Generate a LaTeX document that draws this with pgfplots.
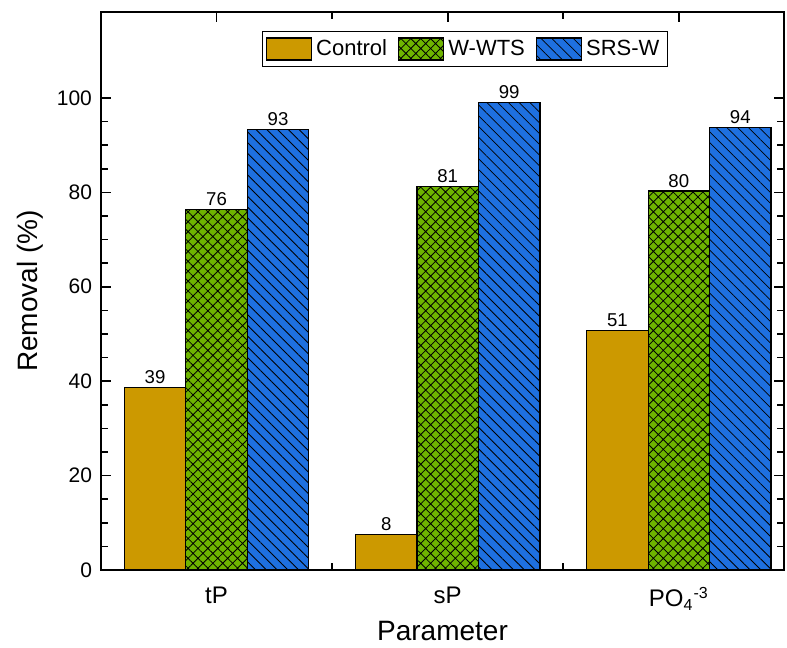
\documentclass[border=0pt]{standalone}
\usepackage{fontspec}
\setmainfont{Liberation Sans}
\usepackage{pgfplots}
\usepackage{pgfplotstable}
\pgfplotsset{compat=1.18}
\usetikzlibrary{patterns.meta}
\definecolor{cgold}{RGB}{204,153,0}
\definecolor{cgreen}{RGB}{110,180,0}
\definecolor{cblue}{RGB}{30,112,224}

\pgfplotstableread{
x control wwts srsw
0 38.6 76.4 93.3
1 7.6 81.2 99.1
2 50.8 80.3 93.8
}\data

\begin{document}
\begin{tikzpicture}
\useasboundingbox (-50.5pt,-38.7pt) rectangle (343pt,285pt);
\begin{axis}[
  at={(0pt,0pt)}, anchor=south west,
  scale only axis, width=341.5pt, height=279pt,
  ybar=0pt, bar width=0.266,
  xmin=-0.5, xmax=2.455, ymin=0, ymax=118.2,
  xtick={0,1,2}, xticklabels={tP, sP, PO\textsubscript{4}\textsuperscript{-3}},
  minor x tick num=1,
  ytick={0,20,40,60,80,100}, minor y tick num=3,
  tick align=inside, tick pos=both,
  major tick length=5pt, minor tick length=3.3pt,
  axis line style={line width=1pt},
  every tick/.style={black, line width=0.8pt},
  /pgf/number format/assume math mode=true,
  yticklabel style={font=\fontsize{10.5}{12}\selectfont, xshift=-1pt},
  xticklabel style={font=\fontsize{12}{14}\selectfont, yshift=-5pt},
  xlabel={Parameter}, ylabel={Removal (\%)},
  label style={font=\fontsize{14}{16}\selectfont},
  xlabel style={at={(axis description cs:0.5,-0.109)}, anchor=center},
  ylabel style={at={(axis description cs:-0.104,0.5)}, anchor=center},
  nodes near coords,
  nodes near coords style={font=\fontsize{9.3}{11}\selectfont, black, inner sep=1.5pt,
     /pgf/number format/.cd, fixed, precision=0, assume math mode=true},
  legend columns=3,
  legend style={at={(rel axis cs:0.235,0.966)}, anchor=north west, draw=black, line width=0.5pt,
     font=\fontsize{11}{13}\selectfont, inner xsep=2pt, inner ysep=2pt,
     /tikz/every even column/.append style={column sep=3.5pt}},
  mylegend/.style={legend image code/.code={\draw[##1] (0pt,-5.5pt) rectangle (22.5pt,5.5pt);}},
  legend cell align=left,
]
\addplot[fill=cgold, draw=black, line width=0.6pt, mylegend] table[x=x,y=control]{\data};
\addlegendentry{Control\hspace{3pt}}
\addplot[fill=cgreen, draw=black, line width=0.6pt, mylegend,
  postaction={pattern={Hatch[angle=45,distance=3.5pt,line width=0.4pt]}, pattern color=black}]
  table[x=x,y=wwts]{\data};
\addlegendentry{W-WTS\hspace{3pt}}
\addplot[fill=cblue, draw=black, line width=0.6pt, mylegend,
  postaction={pattern={Lines[angle=-45,distance=3.8pt,line width=0.4pt]}, pattern color=black}]
  table[x=x,y=srsw]{\data};
\addlegendentry{SRS-W}
\end{axis}
\end{tikzpicture}
\end{document}
